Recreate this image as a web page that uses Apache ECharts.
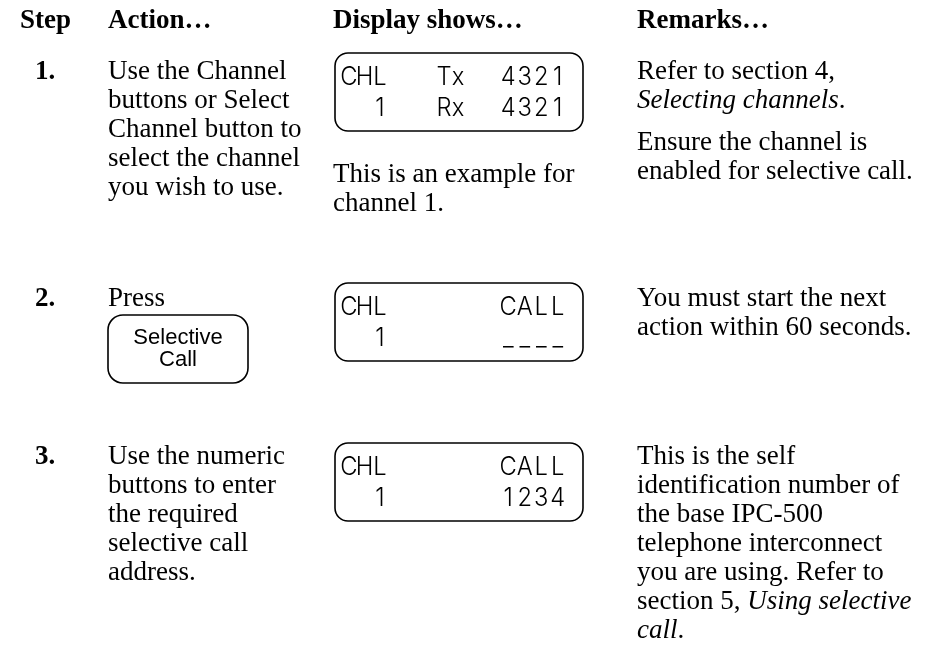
<!DOCTYPE html>
<html><head><meta charset="utf-8">
<script src="https://cdn.jsdelivr.net/npm/echarts@6/dist/echarts.min.js"></script>
<style>html,body{margin:0;padding:0;background:#fff}#c{width:930px;height:656px}</style>
</head><body><div id="c"></div>
<script>
// ---- content ----
const headers = ["Step", "Action\u2026", "Display shows\u2026", "Remarks\u2026"];
const stepNumbers = ["1.", "2.", "3."];
const actionLines = [
  ["Use the Channel", "buttons or Select", "Channel button to", "select the channel", "you wish to use."],
  ["Press"],
  ["Use the numeric", "buttons to enter", "the required", "selective call", "address."]
];
const buttonLabel = ["Selective", "Call"];
const lcdScreens = [
  [["CHL", "Tx", "4321"], ["  1", "Rx", "4321"]],
  [["CHL", "", "CALL"], ["  1", "", "____"]],
  [["CHL", "", "CALL"], ["  1", "", "1234"]]
];
const displayNotes = [["This is an example for", "channel 1."], [], []];
// remarks: paragraphs -> lines -> segments [text, style]
const remarks = [
  [
    [[["Refer to section 4,"]], [["Selecting channels", "i"], ["."]]],
    [[["Ensure the channel is"]], [["enabled for selective call."]]]
  ],
  [
    [[["You must start the next"]], [["action within 60 seconds."]]]
  ],
  [
    [[["This is the self"]], [["identification number of"]], [["the base IPC-500"]],
     [["telephone interconnect"]], [["you are using. Refer to"]],
     [["section 5, "], ["Using selective", "i"]], [["call", "i"], ["."]]]
  ]
];

// ---- layout ----
const SERIF = '"Liberation Serif","Times New Roman",serif';
const SANS = '"Liberation Sans",Arial,sans-serif';
const LCDF = 'Inter,"Noto Sans",sans-serif';
const FS = 27, LH = 29, MID = 9;
const headerX = [20, 108, 333, 637];
const headerBase = 30;
const stepX = 35, actionX = 108, displayX = 333, remarksX = 637;
const rowBase = [81, 308, 466];
const paraGap = 13;
const lcdX = 335, lcdW = 248, lcdH = 78, lcdTops = [53, 283, 443];
const lcdRowOff = [24, 55];
const lcdLeftStart = 349, lcdLeftPitch = 15.5;
const lcdMidStart = 444, lcdMidPitch = 14;
const lcdRightEnd = 566, lcdRightPitch = 16.5;
const btn = {x: 108, y: 315, w: 140, h: 68, r: 15};
const noteBase = 184;

const g = [];
function text(x, baseline, t, o) {
  o = o || {};
  g.push({type: 'text', x: x, y: baseline - MID, silent: true,
    style: {text: t, fill: '#000', font: (o.weight || 'normal') + ' ' + (o.size || FS) + 'px ' + SERIF,
      align: o.align || 'left', verticalAlign: 'middle'}});
}
function richLine(x, baseline, segs) {
  const str = segs.map(s => '{' + (s[1] || 'n') + '|' + s[0] + '}').join('');
  g.push({type: 'text', x: x, y: baseline - MID, silent: true,
    style: {text: str, align: 'left', verticalAlign: 'middle',
      rich: {
        n: {fontFamily: SERIF, fontSize: FS, fill: '#000'},
        i: {fontFamily: SERIF, fontSize: FS, fontStyle: 'italic', fill: '#000'}
      }}});
}
function lcdChar(cx, cy, ch) {
  if (ch === ' ') return;
  g.push({type: 'text', x: cx, y: cy, silent: true, scaleX: 0.95,
    style: {text: ch, fill: '#000', font: '300 25px ' + LCDF, align: 'center', verticalAlign: 'middle'}});
}

headers.forEach((h, i) => text(headerX[i], headerBase, h, {weight: 'bold'}));

stepNumbers.forEach((s, r) => {
  text(stepX, rowBase[r], s, {weight: 'bold'});
  actionLines[r].forEach((l, k) => text(actionX, rowBase[r] + k * LH, l));
  // LCD box
  g.push({type: 'rect', silent: true, shape: {x: lcdX, y: lcdTops[r], width: lcdW, height: lcdH, r: 13},
    style: {fill: 'none', stroke: '#000', lineWidth: 1.6}});
  lcdScreens[r].forEach((row, k) => {
    const cy = lcdTops[r] + lcdRowOff[k];
    row[0].split('').forEach((ch, i) => lcdChar(lcdLeftStart + i * lcdLeftPitch, cy, ch));
    row[1].split('').forEach((ch, i) => lcdChar(lcdMidStart + i * lcdMidPitch, cy, ch));
    const n = row[2].length;
    row[2].split('').forEach((ch, i) => lcdChar(lcdRightEnd - lcdRightPitch / 2 - (n - 1 - i) * lcdRightPitch, cy, ch));
  });
  displayNotes[r].forEach((l, k) => text(displayX, noteBase + k * LH, l));
  let y = rowBase[r];
  remarks[r].forEach((para, p) => {
    if (p > 0) y += paraGap;
    para.forEach(line => { richLine(remarksX, y, line); y += LH; });
  });
});

// button
g.push({type: 'rect', silent: true, shape: {x: btn.x, y: btn.y, width: btn.w, height: btn.h, r: btn.r},
  style: {fill: 'none', stroke: '#000', lineWidth: 1.6}});
buttonLabel.forEach((l, k) => g.push({type: 'text', silent: true, x: btn.x + btn.w / 2, y: btn.y + 23 + k * 22,
  style: {text: l, fill: '#000', font: '22px ' + SANS, align: 'center', verticalAlign: 'middle'}}));

const chart = echarts.init(document.getElementById('c'));
chart.setOption({animation: false, backgroundColor: '#fff', graphic: {elements: g}});
</script></body></html>
